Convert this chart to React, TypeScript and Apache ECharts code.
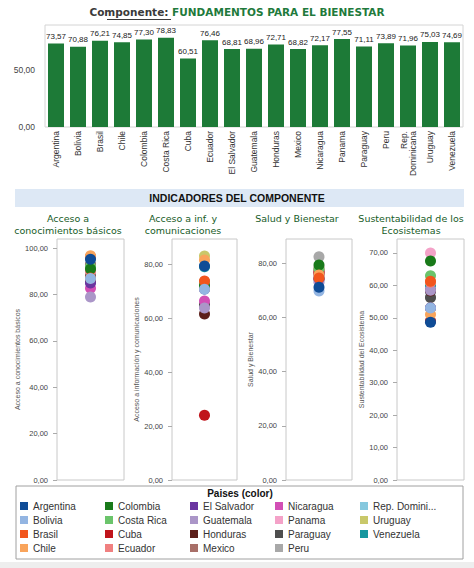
import { useEffect, useRef } from 'react';
import * as echarts from 'echarts';

const countries = ['Argentina', 'Bolivia', 'Brasil', 'Chile', 'Colombia', 'Costa Rica', 'Cuba', 'Ecuador', 'El Salvador', 'Guatemala', 'Honduras', 'Mexico', 'Nicaragua', 'Panama', 'Paraguay', 'Peru', 'Rep. Dominicana', 'Uruguay', 'Venezuela'];
const countryColors = ['#0f4c96', '#93b5e2', '#f2561d', '#f9a45b', '#197a1a', '#6bc46b', '#c0141b', '#f08080', '#6a35a0', '#ab96c8', '#5c1f1a', '#a86f68', '#d24fb5', '#f4a2c8', '#4e4e4e', '#a8a8a8', '#86c8de', '#c9c86a', '#17979f'];

// Componente: Fundamentos para el bienestar
const fundamentos = [73.57, 70.88, 76.21, 74.85, 77.30, 78.83, 60.51, 76.46, 68.81, 68.96, 72.71, 68.82, 72.17, 77.55, 71.11, 73.89, 71.96, 75.03, 74.69];
const barTicks = [0, 50];

// Indicadores del componente
const conocimientos = [95.3, 87, 87.2, 96.8, 91, 92, 96.3, 90, 85, 79, 85.5, 93, 82.8, 90, 88, 92, 88.5, 96, 93];
const informacion = [79.3, 70.7, 73.7, 81.5, 72, 73.5, 24, 71, 70.8, 63.7, 61.5, 71, 66.3, 73.5, 65, 72, 70.8, 83, 79];
const salud = [71.2, 69.8, 74.6, 75.7, 79.4, 78, 76.5, 77, 74.5, 73, 74, 77.5, 76, 78.5, 77, 82.4, 75, 78, 76];
const sustentabilidad = [48.6, 53, 61.3, 51, 67.5, 63, 49, 61, 53, 58.5, 58.3, 53, 58.5, 70, 56.3, 56.3, 58, 61, 60];

const panelTitles = ['Acceso a\nconocimientos básicos', 'Acceso a inf. y\ncomunicaciones', 'Salud y Bienestar', 'Sustentabilidad de los\nEcosistemas'];
const axisTitles = ['Acceso a conocimientos básicos', 'Acceso a información y comunicaciones', 'Salud y Bienestar', 'Sustentabilidad del Ecosistema'];
const panelValues = [conocimientos, informacion, salud, sustentabilidad];
const panelTicks = [[0, 20, 40, 60, 80, 100], [0, 20, 40, 60, 80], [0, 20, 40, 60, 80], [0, 10, 20, 30, 40, 50, 60, 70]];
const panelMax = [104, 89.3, 89, 74.3];

const fmt = (v: number) => v.toFixed(2).replace('.', ',');

export default function App() {
  const ref = useRef<HTMLDivElement>(null);
  useEffect(() => {
    if (!ref.current) return;
    const chart = echarts.init(ref.current, undefined, { renderer: 'svg' });
    const sans = 'Liberation Sans, Arial, sans-serif';
    const verd = 'DejaVu Sans, Verdana, sans-serif';

    const panelGrids = [
      { left: 57, width: 67 },
      { left: 172, width: 65 },
      { left: 286, width: 66 },
      { left: 397, width: 67 },
    ];
    const titleCenters = [68, 183, 297, 411];

    const grids: any[] = [
      { left: 45, top: 25, width: 418, height: 102, show: true, borderColor: '#d4d4d4', borderWidth: 1, backgroundColor: '#fff' },
      ...panelGrids.map((g) => ({ left: g.left, top: 239, width: g.width, height: 241, show: true, borderColor: '#c8c8c8', borderWidth: 1, backgroundColor: '#fff' })),
    ];

    const xAxes: any[] = [
      {
        type: 'category', gridIndex: 0, data: countries,
        axisLine: { show: false }, axisTick: { show: false },
        axisLabel: {
          rotate: 90, fontSize: 8.5, color: '#333', fontFamily: sans, margin: 4, interval: 0,
          formatter: (v: string) => v.replace('Rep. ', 'Rep.\n'),
        },
      },
      ...panelTitles.map((t, i) => ({ type: 'category', gridIndex: i + 1, data: [t], show: false })),
    ];

    const yAxes: any[] = [
      {
        type: 'value', gridIndex: 0, min: 0, max: 90, interval: 50,
        splitLine: { show: false }, axisLine: { show: false }, axisTick: { show: false },
        axisLabel: {
          fontSize: 8.5, color: '#444', fontFamily: sans, margin: 10,
          customValues: barTicks,
          formatter: (v: number) => (barTicks.includes(v) ? fmt(v) : ''),
        },
      },
      ...panelTicks.map((ticks, i) => ({
        type: 'value', gridIndex: i + 1, min: 0, max: panelMax[i], interval: ticks[1] - ticks[0],
        name: axisTitles[i], nameLocation: 'middle', nameGap: 31,
        nameTextStyle: { fontSize: 7, color: '#555', fontFamily: sans },
        splitLine: { show: false }, axisLine: { show: false },
        axisTick: { show: true, length: 4, lineStyle: { color: '#aaa' }, customValues: ticks },
        axisLabel: {
          fontSize: 7.5, color: '#444', fontFamily: sans, margin: 9,
          customValues: ticks,
          formatter: (v: number) => (ticks.includes(v) ? fmt(v) : ''),
        },
      })),
    ];

    const order = countries.map((_, i) => i).reverse();
    const series: any[] = [
      {
        type: 'bar', xAxisIndex: 0, yAxisIndex: 0, data: fundamentos, barWidth: 16,
        itemStyle: { color: '#1d7a37' },
        label: { show: true, position: 'top', distance: 3, fontSize: 8, color: '#222', fontFamily: sans, formatter: (p: any) => fmt(p.value) },
      },
    ];
    panelValues.forEach((vals, pi) => {
      order.forEach((ci) => {
        series.push({
          type: 'scatter', name: countries[ci], xAxisIndex: pi + 1, yAxisIndex: pi + 1,
          data: [vals[ci]], symbol: 'circle', symbolSize: 11,
          itemStyle: { color: countryColors[ci], opacity: 1 },
        });
      });
    });

    const legendStarts = [0, 4, 8, 12, 16];
    const legends = legendStarts.map((s, c) => ({
      data: countries.slice(s, s + 4),
      orient: 'vertical', left: 20 + c * 85, top: 499,
      itemWidth: 8, itemHeight: 8, itemGap: 0, itemTextGap: 4, padding: 0,
      icon: 'rect', selectedMode: false,
      textStyle: { fontSize: 10, color: '#333', fontFamily: sans, lineHeight: 14 },
      formatter: (n: string) => (n.length > 13 ? n.slice(0, 11) + '...' : n),
    }));

    const graphics: any[] = [
      { type: 'line', shape: { x1: 107, y1: 19.5, x2: 171, y2: 19.5 }, style: { stroke: '#3a3a3a', lineWidth: 1 } },
      { type: 'rect', shape: { x: 15, y: 189, width: 449, height: 18 }, style: { fill: '#dde8f5' } },
      { type: 'text', x: 237, y: 198, style: { text: 'INDICADORES DEL COMPONENTE', fill: '#111', font: `bold 10.5px ${sans}`, align: 'center', verticalAlign: 'middle', textAlign: 'center', textVerticalAlign: 'middle' } },
      ...panelTitles.map((t, i) => ({
        type: 'text', x: titleCenters[i], y: 212,
        style: { text: t, fill: '#175c27', font: `9.5px ${verd}`, lineHeight: 12, align: 'center', verticalAlign: 'top', textAlign: 'center', textVerticalAlign: 'top' },
      })),
      { type: 'rect', shape: { x: 16, y: 486, width: 447, height: 73 }, style: { fill: 'none', stroke: '#a0a0a0', lineWidth: 1 } },
      { type: 'text', x: 240, y: 493, style: { text: 'Paises (color)', fill: '#111', font: `bold 10px ${sans}`, align: 'center', verticalAlign: 'middle', textAlign: 'center', textVerticalAlign: 'middle' } },
      { type: 'rect', shape: { x: 0, y: 562, width: 474, height: 6 }, style: { fill: '#eeeeee' } },
    ];

    chart.setOption({
      animation: false,
      backgroundColor: '#fff',
      title: {
        text: '{a|Componente}{a|: }{b|FUNDAMENTOS PARA EL BIENESTAR}',
        left: 'center', top: 6, padding: 0,
        textStyle: {
          rich: {
            a: { color: '#3a3a3a', fontSize: 10.5, fontWeight: 'bold', fontFamily: verd },
            b: { color: '#1f7a3c', fontSize: 10.5, fontWeight: 'bold', fontFamily: verd },
          },
        },
      },
      grid: grids,
      xAxis: xAxes,
      yAxis: yAxes,
      legend: legends,
      series,
      graphic: graphics,
    });
    return () => chart.dispose();
  }, []);
  return <div ref={ref} style={{ position: 'absolute', left: 0, top: 0, width: 474, height: 568 }} />;
}
